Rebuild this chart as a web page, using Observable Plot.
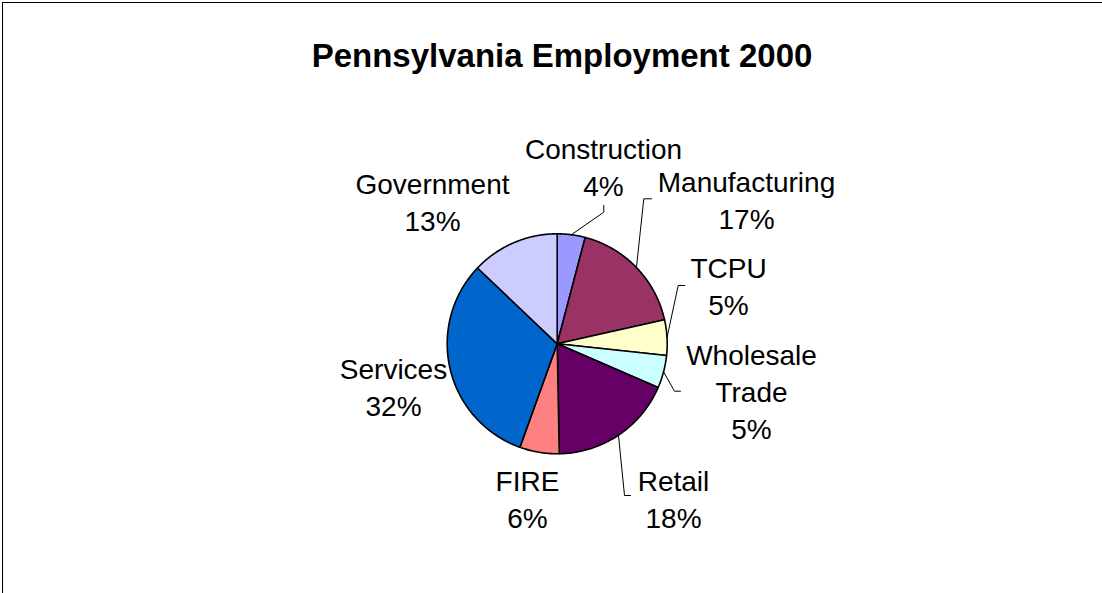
<!DOCTYPE html>
<html>
<head>
<meta charset="utf-8">
<script src="https://cdn.jsdelivr.net/npm/d3@7"></script>
<script src="https://cdn.jsdelivr.net/npm/@observablehq/plot@0.6"></script>
<style>
html, body { margin: 0; padding: 0; background: #fff; }
#wrap { position: relative; width: 1102px; height: 593px; overflow: hidden; font-family: "Liberation Sans", Arial, sans-serif; }
#frame { position: absolute; left: 2px; top: 2px; width: 1300px; height: 800px; border-left: 1px solid #000; border-top: 1px solid #000; }
#title { position: absolute; left: 0; top: 39px; width: 1124px; margin: 0; text-align: center; font-size: 33px; line-height: 33px; font-weight: bold; color: #000; font-family: "Liberation Sans", Arial, sans-serif; }
#chart { position: absolute; left: 0; top: 0; }
</style>
</head>
<body>
<div id="wrap">
  <div id="frame"></div>
  <div id="chart"></div>
  <h1 id="title">Pennsylvania Employment 2000</h1>
</div>
<script>
// ---- data ----
const categories = ["Construction", "Manufacturing", "TCPU", "Wholesale Trade", "Retail", "FIRE", "Services", "Government"];
const shares = [4.1, 17.4, 5.2, 4.8, 18.2, 5.8, 31.6, 12.9];
const colors = ["#9999FF", "#993366", "#FFFFCC", "#CCFFFF", "#660066", "#FF8080", "#0066CC", "#CCCCFF"];

// ---- layout ----
const W = 1102, H = 593;
const cx = 556.7, cy = 343.3, R = 110;
const labelPos = {
  "Construction": [603, 195],
  "Manufacturing": [746, 228],
  "TCPU": [728, 314.5],
  "Wholesale Trade": [751, 438.5],
  "Retail": [673, 527],
  "FIRE": [527, 527],
  "Services": [393, 415],
  "Government": [432, 230]
};
const leaderEnds = {
  "Construction": [[603.3, 211.7], [603.3, 205]],
  "Manufacturing": [[643.3, 198.3], [651, 198.3]],
  "TCPU": [[677.7, 285], [684.3, 285]],
  "Wholesale Trade": [[674, 390.7], [680, 390.7]],
  "Retail": [[624, 495], [630, 495]]
};

const arcs = d3.pie().sort(null).value(d => d)(shares);
const px = a => cx + R * Math.sin(a);
const py = a => cy - R * Math.cos(a);

const slicePts = [];
arcs.forEach((arc, i) => {
  const cat = categories[i];
  slicePts.push({cat, x: cx, y: cy});
  const steps = Math.max(2, Math.ceil((arc.endAngle - arc.startAngle) / (Math.PI / 360)));
  for (let k = 0; k <= steps; ++k) {
    const a = arc.startAngle + (arc.endAngle - arc.startAngle) * k / steps;
    slicePts.push({cat, x: px(a), y: py(a)});
  }
});

const leaderPts = [];
arcs.forEach((arc, i) => {
  const cat = categories[i];
  if (!leaderEnds[cat]) return;
  const mid = (arc.startAngle + arc.endAngle) / 2;
  leaderPts.push({cat, x: px(mid), y: py(mid)});
  leaderEnds[cat].forEach(([x, y]) => leaderPts.push({cat, x, y}));
});

const labels = categories.map((cat, i) => ({
  cat,
  x: labelPos[cat][0],
  y: labelPos[cat][1],
  label: cat.split(" ").join("\n") + "\n" + Math.round(shares[i]) + "%"
}));

const chart = Plot.plot({
  width: W,
  height: H,
  margin: 0,
  x: {domain: [0, W], range: [0, W], axis: null},
  y: {domain: [0, H], range: [0, H], axis: null},
  color: {domain: categories, range: colors},
  style: {background: "transparent", fontFamily: "'Liberation Sans', Arial, sans-serif"},
  marks: [
    Plot.line(slicePts, {x: "x", y: "y", z: "cat", fill: "cat", stroke: "#000", strokeWidth: 1.6, curve: "linear-closed", strokeLinejoin: "round"}),
    Plot.line(leaderPts, {x: "x", y: "y", z: "cat", stroke: "#000", strokeWidth: 1}),
    Plot.text(labels, {x: "x", y: "y", text: "label", fontSize: 28, lineAnchor: "bottom", lineHeight: 1.32, textAnchor: "middle", fill: "#000", fontFamily: "'Liberation Sans', Arial, sans-serif"})
  ]
});
document.getElementById("chart").appendChild(chart);
</script>
</body>
</html>
